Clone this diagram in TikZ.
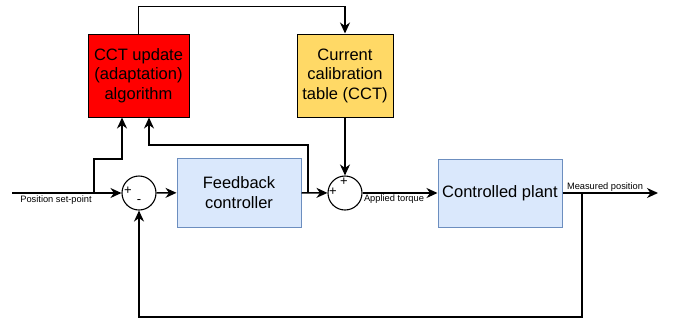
\documentclass[tikz,border=0pt]{standalone}
\usepackage{fontspec}
\setmainfont{Liberation Sans}
\usepackage{xcolor}
\usepackage{tikz}
\usetikzlibrary{calc,arrows.meta}
\definecolor{algred}{HTML}{FF0000}
\definecolor{cctyellow}{HTML}{FFD966}
\definecolor{blockfill}{HTML}{DAE8FC}
\definecolor{blockdraw}{HTML}{6C8EBF}
\definecolor{wire}{HTML}{000000}
\tikzset{
  blk/.style={draw=blockdraw, fill=blockfill, line width=1pt, align=center,
    font=\fontsize{16.5}{19.5}\selectfont, inner sep=0pt},
  upd/.style={blk, draw=black, fill=algred},
  tab/.style={blk, draw=black, fill=cctyellow},
  sum/.style={circle, draw=wire, line width=1.1pt, minimum size=34pt, inner sep=0pt},
  arr/.style={draw=wire, line width=1.4pt, -{Stealth[length=11pt,width=10pt,inset=3.5pt]}},
  lab/.style={text=black, font=\fontsize{9.3}{11}\selectfont, inner sep=1pt},
  sgn/.style={text=black, font=\fontsize{13}{13}\selectfont, inner sep=0pt},
}
\begin{document}
\begin{tikzpicture}[x=1pt,y=-1pt]
  \useasboundingbox[fill=white] (0,0) rectangle (673,325);

  % blocks
  \node[upd, minimum width=101pt, minimum height=83pt] (alg) at (138.5,75.5)
    {CCT update\\(adaptation)\\algorithm};
  \node[tab, minimum width=96pt, minimum height=83pt] (cct) at (345,75.5)
    {Current\\calibration\\table (CCT)};
  \node[blk, minimum width=124pt, minimum height=69pt] (ctrl) at (239,192.5)
    {Feedback\\controller};
  \node[blk, minimum width=124pt, minimum height=68pt] (plant) at (500,193)
    {Controlled plant};

  % summing junctions
  \node[sum] (sum1) at (139,193) {};
  \node[sgn] (s1p) at (128,191) {+};
  \node[sgn] (s1m) at (139,202) {-};
  \node[sum] (sum2) at (345,193) {};
  \node[sgn] (s2p) at (333,192) {+};
  \node[sgn] (s2t) at (344,182) {+};

  \coordinate (in) at (12,193);
  \coordinate (split) at (94,193);
  \coordinate (tap) at (308,193);
  \coordinate (fb) at (582,193);
  \coordinate (out) at (658,193);

  % forward path
  \draw[arr] (in) -- (sum1);
  \draw[arr] (sum1) -- (ctrl);
  \draw[arr] (ctrl) -- (sum2);
  \draw[arr] (sum2) -- (plant);
  \draw[arr] (plant) -- (out);

  % feedback
  \draw[arr] (fb) -- ++(0,124) -| (sum1.south);

  % adaptation loop
  \draw[arr] (split) -- ++(0,-34) -| ([xshift=-16.5pt]alg.south);
  \draw[arr] (tap) -- ++(0,-48) -| ([xshift=10.5pt]alg.south);
  \draw[arr] (alg.north) -- ++(0,-27) -| (cct.north);
  \draw[arr] (cct) -- (sum2);

  % signal names
  \node[lab] (splab) at (56,200) {Position set-point};
  \node[lab] (tqlab) at (394,199) {Applied torque};
  \node[lab] (mplab) at (605,187.5) {Measured position};
\end{tikzpicture}
\end{document}
